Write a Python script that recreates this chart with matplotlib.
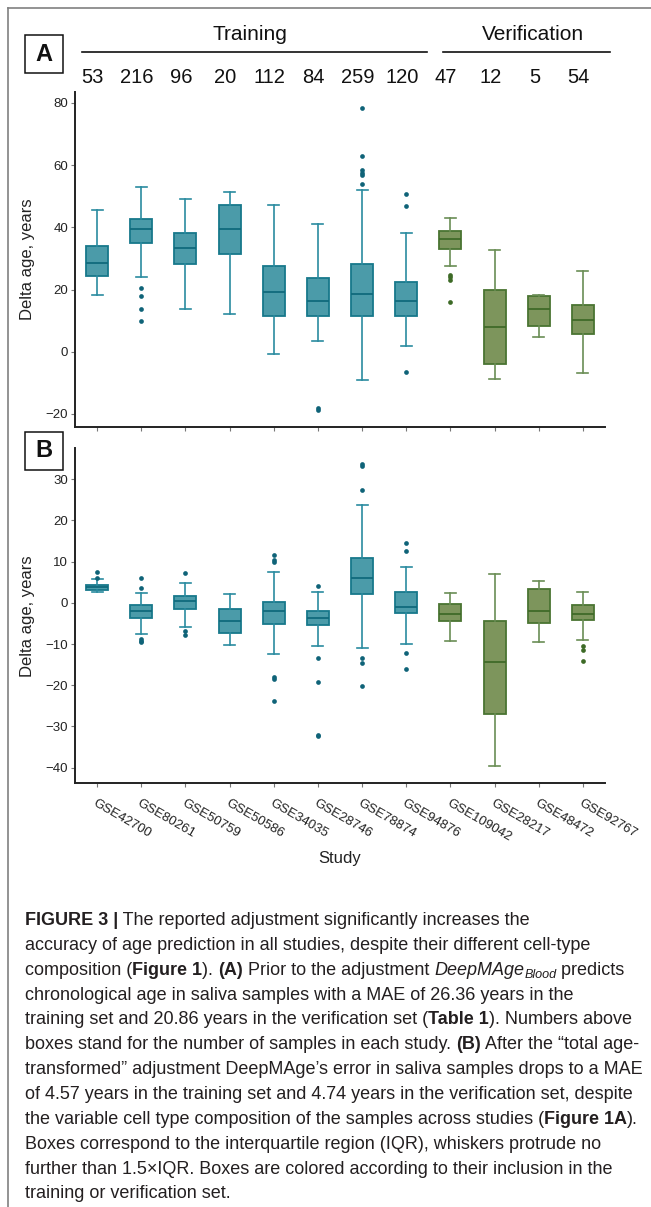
import matplotlib.pyplot as plt
from matplotlib.patches import Rectangle
from matplotlib.lines import Line2D

plt.rcParams['font.family'] = ['Liberation Sans', 'DejaVu Sans']

# Data
studies = ['GSE42700', 'GSE80261', 'GSE50759', 'GSE50586', 'GSE34035', 'GSE28746',
           'GSE78874', 'GSE94876', 'GSE109042', 'GSE28217', 'GSE48472', 'GSE92767']
n_samples = [53, 216, 96, 20, 112, 84, 259, 120, 47, 12, 5, 54]
groups = ['Training'] * 8 + ['Verification'] * 4

# Panel A: before adjustment
a_whislo = [18.3, 24.1, 13.7, 12.2, -0.7, 3.3, -9.1, 1.7, 27.6, -8.7, 4.7, -6.9]
a_q1 = [24.3, 34.9, 28.1, 31.4, 11.4, 11.6, 11.4, 11.4, 33.1, -3.9, 8.2, 5.7]
a_med = [28.4, 39.3, 33.3, 39.6, 19.3, 16.2, 18.6, 16.4, 36.3, 7.8, 13.9, 10.3]
a_q3 = [34.1, 42.8, 38.2, 47.1, 27.7, 23.8, 28.2, 22.5, 38.7, 19.8, 17.8, 14.9]
a_whishi = [45.6, 53.0, 49.1, 51.2, 47.3, 41.2, 52.0, 38.3, 43.0, 32.8, 18.3, 25.8]
a_fliers = [[], [20.6, 18.0, 13.6, 10.0], [], [], [], [-18.1, -18.6],
            [78.3, 62.9, 58.4, 57.6, 56.7, 53.8], [50.8, 46.8, -6.5],
            [24.7, 23.9, 23.1, 15.9], [], [], []]

# Panel B: after adjustment
b_whislo = [2.7, -7.5, -5.8, -10.3, -12.4, -10.4, -10.9, -10.0, -9.3, -39.6, -9.4, -9.1]
b_q1 = [3.2, -3.6, -1.5, -7.4, -5.1, -5.5, 2.1, -2.5, -4.4, -27.1, -4.8, -4.2]
b_med = [3.8, -1.9, 0.4, -4.3, -1.9, -3.6, 6.1, -1.0, -2.7, -14.3, -2.1, -2.6]
b_q3 = [4.4, -0.6, 1.6, -1.6, 0.2, -1.9, 10.8, 2.7, -0.2, -4.4, 3.3, -0.5]
b_whishi = [5.8, 2.4, 4.7, 2.1, 7.6, 2.7, 23.8, 8.7, 2.3, 7.0, 5.3, 2.7]
b_fliers = [[7.4, 6.1], [6.1, 3.5, -8.7, -9.2, -9.6], [7.2, -6.8, -7.7], [],
            [11.5, 10.4, 10.0, -18.0, -18.4, -23.9], [4.0, -13.3, -19.2, -32.0, -32.3],
            [33.7, 33.1, 27.5, -13.3, -14.7, -20.2], [14.4, 12.5, -12.1, -16.1],
            [], [], [], [-10.6, -11.4, -14.1]]

# caption: (text, style) pieces; n=normal, b=bold, i=italic, s=italic subscript
caption_lines = [
    [('FIGURE 3 |', 'b'), (' The reported adjustment significantly increases the', 'n')],
    [('accuracy of age prediction in all studies, despite their different cell-type', 'n')],
    [('composition (', 'n'), ('Figure 1', 'b'), ('). ', 'n'), ('(A)', 'b'),
     (' Prior to the adjustment ', 'n'), ('DeepMAge', 'i'), ('Blood', 's'), (' predicts', 'n')],
    [('chronological age in saliva samples with a MAE of 26.36 years in the', 'n')],
    [('training set and 20.86 years in the verification set (', 'n'), ('Table 1', 'b'),
     ('). Numbers above', 'n')],
    [('boxes stand for the number of samples in each study. ', 'n'), ('(B)', 'b'),
     (' After the “total age-', 'n')],
    [('transformed” adjustment DeepMAge’s error in saliva samples drops to a MAE', 'n')],
    [('of 4.57 years in the training set and 4.74 years in the verification set, despite', 'n')],
    [('the variable cell type composition of the samples across studies (', 'n'),
     ('Figure 1A', 'b'), (').', 'n')],
    [('Boxes correspond to the interquartile region (IQR), whiskers protrude no', 'n')],
    [('further than 1.5×IQR. Boxes are colored according to their inclusion in the', 'n')],
    [('training or verification set.', 'n')],
]

colors = {
    'Training': dict(fill='#4b9ba9', edge='#17788b', whisker='#2a8ba0', median='#106a7c', flier='#0f6378'),
    'Verification': dict(fill='#7d955c', edge='#4a7432', whisker='#6a8d55', median='#3f6a28', flier='#3d6a26'),
}

W, H = 651, 1207
fig = plt.figure(figsize=(W / 100, H / 100), dpi=100)


def fx(x):
    return x / W


def fy(y):
    return 1 - y / H


axA = fig.add_axes([fx(75), fy(426.7), (605 - 75) / W, (426.7 - 91.7) / H])
axB = fig.add_axes([fx(75), fy(783.3), (605 - 75) / W, (783.3 - 448.3) / H])


def draw_boxes(ax, lo, q1, med, q3, hi, fliers):
    for i in range(len(studies)):
        c = colors[groups[i]]
        st = dict(whislo=lo[i], q1=q1[i], med=med[i], q3=q3[i], whishi=hi[i], fliers=fliers[i])
        ax.bxp([st], positions=[i], widths=0.5, capwidths=0.25, patch_artist=True,
               manage_ticks=False,
               boxprops=dict(facecolor=c['fill'], edgecolor=c['edge'], linewidth=1.3),
               whiskerprops=dict(color=c['whisker'], linewidth=1.2),
               capprops=dict(color=c['whisker'], linewidth=1.2),
               medianprops=dict(color=c['median'], linewidth=1.3),
               flierprops=dict(marker='o', markerfacecolor=c['flier'],
                               markeredgecolor='none', markersize=3.4))


def style_axis(ax):
    for s in ['top', 'right']:
        ax.spines[s].set_visible(False)
    for s in ['left', 'bottom']:
        ax.spines[s].set_color('#222222')
        ax.spines[s].set_linewidth(1.4)
    ax.tick_params(length=3, width=0.8, color='#777777', labelsize=9.5,
                   labelcolor='#222222', pad=2)
    ax.set_xlim(-0.5, 11.5)
    ax.set_xticks(range(len(studies)))
    ax.set_ylabel('Delta age, years', fontsize=12, color='#222222')
    ax.yaxis.label.set_va('center')
    ax.yaxis.set_label_coords((27.5 - 75) / 530, 0.5)


draw_boxes(axA, a_whislo, a_q1, a_med, a_q3, a_whishi, a_fliers)
style_axis(axA)
axA.set_ylim(-24.1, 83.6)
axA.set_yticks([-20, 0, 20, 40, 60, 80])
axA.set_xticklabels([])

draw_boxes(axB, b_whislo, b_q1, b_med, b_q3, b_whishi, b_fliers)
style_axis(axB)
axB.set_ylim(-43.8, 37.5)
axB.set_yticks([-40, -30, -20, -10, 0, 10, 20, 30])
axB.set_xticklabels(studies, rotation=-30, ha='left', va='top',
                    rotation_mode='anchor', fontsize=9.5)
axB.tick_params(axis='x', pad=7)
axB.set_xlabel('Study', fontsize=12, color='#222222')
axB.xaxis.label.set_va('center')
axB.xaxis.set_label_coords(0.5, (783.3 - 858) / 335)

# sample counts above boxes
for i, n in enumerate(n_samples):
    axA.text(i - 0.1, (426.7 - 77.3) / 335, str(n), transform=axA.get_xaxis_transform(),
             ha='center', va='center', fontsize=14.5, color='#111111')

# group headers with lines
for name, x0, x1, xt in [('Training', 81.7, 426.7, 250), ('Verification', 442.7, 610, 533)]:
    fig.add_artist(Line2D([fx(x0), fx(x1)], [fy(51.7), fy(51.7)], color='#111111',
                          linewidth=1.2, transform=fig.transFigure))
    fig.text(fx(xt), fy(35), name, ha='center', va='center', fontsize=15, color='#111111')

# panel letters
for letter, yc in [('A', 54.2), ('B', 450.8)]:
    fig.add_artist(Rectangle((fx(25), fy(yc + 19)), 38.3 / W, 38.3 / H, fill=False,
                             edgecolor='#111111', linewidth=1.1, transform=fig.transFigure))
    fig.text(fx(44.2), fy(yc), letter, ha='center', va='center', fontsize=17,
             fontweight='bold', color='#111111')

# outer frame
fig.add_artist(Line2D([fx(8.3), 1], [fy(8.3), fy(8.3)], color='#808080', linewidth=1.2,
                      transform=fig.transFigure))
fig.add_artist(Line2D([fx(8.3), fx(8.3)], [fy(8.3), 0], color='#808080', linewidth=1.2,
                      transform=fig.transFigure))

# caption, drawn piece by piece so bold/italic runs sit inline
renderer = fig.canvas.get_renderer()
cap_size = 13
styles = {
    'n': dict(fontsize=cap_size),
    'b': dict(fontsize=cap_size, fontweight='bold'),
    'i': dict(fontsize=cap_size, style='italic'),
    's': dict(fontsize=cap_size * 0.7, style='italic'),
}


def piece_width(s, kw):
    t1 = fig.text(0, 0, '|' + s + '|', **kw)
    t2 = fig.text(0, 0, '||', **kw)
    w = t1.get_window_extent(renderer).width - t2.get_window_extent(renderer).width
    t1.remove()
    t2.remove()
    return w


for k, pieces in enumerate(caption_lines):
    x = 25.0
    base = 925 + k * 24.85
    for s, st in pieces:
        kw = styles[st]
        y = base + (3.5 if st == 's' else 0)
        fig.text(fx(x), fy(y), s, ha='left', va='baseline', color='#231f20', **kw)
        x += piece_width(s, kw)

fig.savefig('out.png', dpi=100)
